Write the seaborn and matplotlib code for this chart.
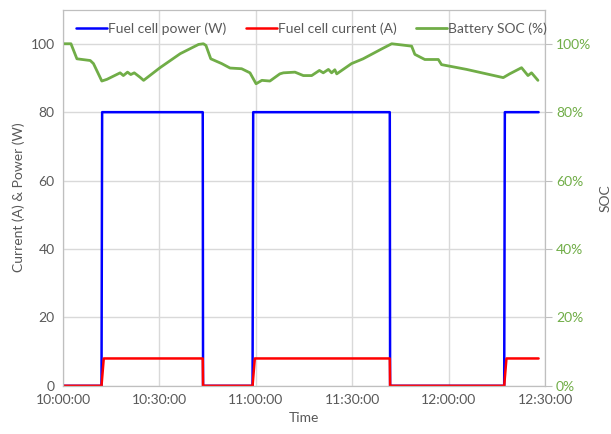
import numpy as np
import pandas as pd
import seaborn as sns
import matplotlib
matplotlib.use("Agg")
import matplotlib.pyplot as plt
import matplotlib.dates as mdates

# minutes after 10:00:00
power_min = [0, 12.0, 12.2, 43.5, 43.6, 59.0, 59.2, 101.7, 101.8, 137.3, 137.5, 148.0]
power_w = [0, 0, 80, 80, 0, 0, 80, 80, 0, 0, 80, 80]

current_min = [0, 12.0, 12.7, 43.5, 43.6, 59.0, 59.7, 101.7, 101.8, 137.3, 138.0, 148.0]
current_a = [0, 0, 8, 8, 0, 0, 8, 8, 0, 0, 8, 8]

soc_min = [0, 2.5, 4.35, 8.5, 9.5, 12.1, 13.7, 17.8, 18.8, 20.1, 21.1, 22.2, 24.0, 25.1,
           30.2, 36.5, 42.2, 43.7, 44.5, 46.0, 49.4, 52.0, 55.6, 58.2, 60.1, 61.9, 64.4,
           67.5, 68.6, 72.2, 74.8, 77.4, 79.8, 81.0, 82.6, 83.6, 84.6, 85.2, 89.8, 93.4,
           99.2, 102.3, 108.5, 109.5, 112.6, 116.8, 117.8, 125.6, 137.0, 139.0, 142.7,
           144.7, 145.8, 147.8]
soc_pct = [100, 100, 95.6, 95.1, 94.2, 89.1, 89.6, 91.5, 90.7, 91.7, 91.0, 91.5, 90.2, 89.3,
           93.0, 97.1, 99.8, 100, 99.5, 95.6, 94.2, 92.9, 92.7, 91.5, 88.3, 89.3, 89.1,
           91.2, 91.5, 91.7, 90.7, 90.7, 92.2, 91.5, 92.5, 91.5, 92.4, 91.2, 94.2, 95.6,
           98.5, 100, 99.3, 96.9, 95.4, 95.4, 93.9, 92.5, 90.1, 91.2, 93.0,
           90.7, 91.5, 89.3]

start = pd.Timestamp("2020-01-01 10:00:00")
to_time = lambda m: start + pd.to_timedelta(m, unit="min")

df_pow = pd.DataFrame({"time": to_time(power_min), "val": power_w})
df_cur = pd.DataFrame({"time": to_time(current_min), "val": current_a})
df_soc = pd.DataFrame({"time": to_time(soc_min), "val": np.array(soc_pct) / 100})

sns.set_style("white")
plt.rcParams["font.family"] = ["Lato", "DejaVu Sans"]
grey = "#595959"
gridc = "#d9d9d9"

fig, ax = plt.subplots(figsize=(6.11, 4.34), dpi=100)
fig.subplots_adjust(left=0.103, right=0.892, top=0.978, bottom=0.111)
ax2 = ax.twinx()

sns.lineplot(data=df_pow, x="time", y="val", ax=ax, color="#0000ff", lw=1.8,
             estimator=None, sort=False, label="Fuel cell power (W)", legend=False)
sns.lineplot(data=df_cur, x="time", y="val", ax=ax, color="#ff0000", lw=1.8,
             estimator=None, sort=False, label="Fuel cell current (A)", legend=False)
sns.lineplot(data=df_soc, x="time", y="val", ax=ax2, color="#70ad47", lw=2.0,
             estimator=None, sort=False, label="Battery SOC (%)", legend=False)

ax.set_xlim(to_time(0), to_time(150))
ax.set_ylim(0, 110)
ax2.set_ylim(0, 1.1)
ax.set_yticks([0, 20, 40, 60, 80, 100])
ax2.set_yticks([0, 0.2, 0.4, 0.6, 0.8, 1.0])
ax2.set_yticklabels([f"{int(round(v*100))}%" for v in ax2.get_yticks()])

ax.xaxis.set_major_locator(mdates.MinuteLocator(byminute=[0, 30]))
ax.xaxis.set_major_formatter(mdates.DateFormatter("%H:%M:%S"))

ax.grid(True, color=gridc, lw=1)
ax.set_axisbelow(True)
for a in (ax, ax2):
    for s in a.spines.values():
        s.set_color("#bfbfbf")
ax.tick_params(axis="both", colors=grey, labelsize=10, length=0, pad=6)
ax2.tick_params(axis="y", colors="#bfbfbf", labelcolor="#70ad47", labelsize=10, length=5, pad=3)

ax.set_xlabel("Time", color=grey, fontsize=10)
ax.set_ylabel("Current (A) & Power (W)", color=grey, fontsize=10)
ax2.set_ylabel("SOC", color=grey, fontsize=10)
ax2.yaxis.set_label_coords(1.113, 0.5)

h1, l1 = ax.get_legend_handles_labels()
h2, l2 = ax2.get_legend_handles_labels()
ax2.legend(h1 + h2, l1 + l2, loc="upper center", bbox_to_anchor=(0.516, 1.0), ncol=3,
           frameon=False, handlelength=2.2, handletextpad=0.1, columnspacing=1.4,
           labelcolor=grey, fontsize=10)

fig.savefig("out.png", dpi=100)
